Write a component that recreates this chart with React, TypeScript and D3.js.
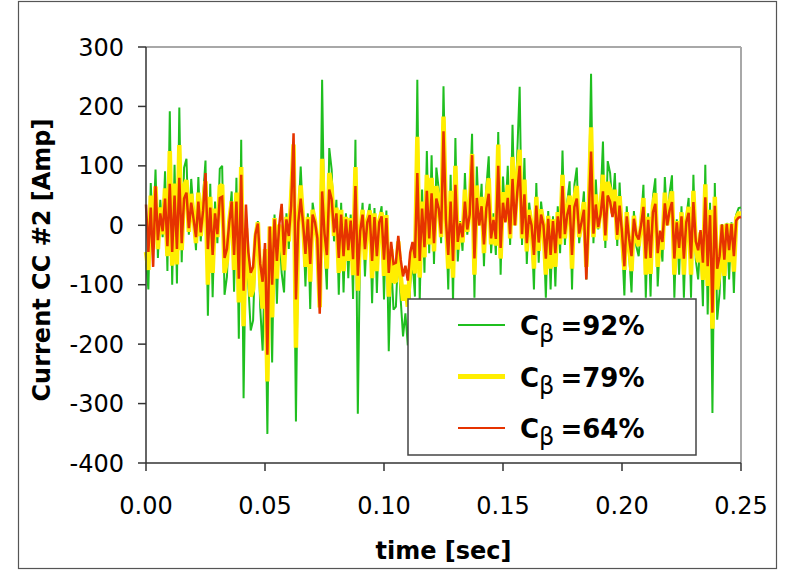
import React, { useEffect } from 'react';
import * as d3 from 'd3';

// sample interval of the recorded current [sec]
const dt = 0.001;

const green92 = [
  -60, -108, 71, -20, 94, -55, 43, -20, 91, -77,
  192, -100, 102, -98, 198, -62, 97, 112, -16, 78,
  20, -42, 81, -27, 50, 109, -152, 70, -121, 40,
  -30, 95, 100, -117, -87, 10, 57, -112, 80, -191,
  144, -291, -8, -100, -177, -160, -30, 7, -139, -211,
  -60, -351, -3, -231, 18, -132, 1, -80, -113, 20,
  -40, 70, 72, -330, 10, 99, 7, -103, 20, -141,
  38, 10, -47, -100, 245, -30, -108, 130, 94, -27,
  43, -117, 38, -113, 20, -89, 18, -124, 144, -317,
  -20, 38, -86, 10, 36, -131, 29, -114, 10, 32,
  -125, 25, -212, -60, -142, -137, -40, -124, -187, -148,
  -202, -100, -60, -120, 245, -130, 60, -80, 125, -47,
  118, -65, 97, 60, -30, 234, 20, -108, 85, -130,
  147, -61, 7, -43, 88, -16, 40, 154, -122, 99,
  0, 70, -69, 63, 116, -47, 20, -50, 157, -83,
  82, 10, 100, -33, 169, 0, 122, 233, -33, 113,
  -65, 38, 0, -108, 71, -63, 40, 0, -122, 24,
  -108, 15, -103, 32, -47, 126, -33, 40, 74, -108,
  68, 97, -30, 10, 57, -91, 30, 255, -30, 77,
  -7, 40, 141, -38, 108, 88, 30, 88, -35, 72,
  -27, -118, 32, -50, -113, 24, -35, -52, 0, 68,
  -122, 20, -120, 48, 79, -103, -20, -61, 81, 0,
  54, 84, -122, 10, -83, 32, -122, 11, 46, -122,
  85, -58, -91, -18, -136, 102, -150, 38, -316, 71,
  -159, -114, 2, -125, 4, -91, 5, -114, 18, 29,
  30,
];

const yellow79 = [
  -45, -75, 50, -15, 65, -40, 30, -15, 62, -52,
  125, -68, 70, -66, 135, -42, 66, 76, -11, 53,
  14, -30, 55, -18, 34, 74, -100, 48, -80, 28,
  -20, 65, 68, -80, -60, 7, 40, -75, 55, -130,
  98, -170, -5, -68, -120, -108, -20, 5, -95, -140,
  -40, -263, -2, -155, 12, -90, 1, -20, -76, 14,
  -27, 48, 136, -206, 7, 67, 5, -70, 14, -95,
  26, 7, -32, -138, 112, -20, -73, 88, 64, -18,
  30, -80, 26, -77, 14, -60, 12, -84, 98, -110,
  -14, 26, -58, 7, 25, -89, 20, -77, 7, 22,
  -85, 17, -120, -40, -96, -93, -27, -84, -127, -100,
  -137, -68, -40, -81, 149, -88, 40, -54, 85, -32,
  80, -44, 66, 40, -20, 183, 14, -73, 58, -88,
  100, -41, 5, -29, 60, -11, 27, 120, -83, 67,
  0, 48, -47, 43, 79, -32, 14, -34, 136, -56,
  56, 7, 68, -22, 115, 0, 83, 127, -22, 77,
  -44, 26, 0, -73, 48, -43, 27, 0, -83, 16,
  -73, 10, -70, 22, -32, 85, -22, 27, 50, -73,
  46, 66, -20, 7, 39, -70, 20, 165, -20, 52,
  -5, 27, 85, -26, 73, 60, 20, 60, -24, 49,
  -18, -75, 22, -34, -77, 16, -24, -35, 0, 46,
  -83, 14, -82, 33, 54, -70, -14, -41, 55, 0,
  37, 57, -83, 7, -56, 22, -83, 7, 31, -83,
  58, -39, -62, -12, -92, 69, -102, 26, -174, 48,
  -108, -78, 1, -85, 3, -62, 3, -78, 12, 20,
  20,
];

const red64 = [
  35, -45, 30, -70, 66, -25, 20, -10, 45, -35,
  70, -45, 50, -40, 80, -30, 45, 55, -5, 38,
  10, -20, 40, -12, 25, 88, -40, 30, -50, 20,
  -15, 46, 48, -55, -40, 5, 40, -50, 40, -90,
  85, -110, 35, -45, -80, -70, -15, 3, -65, -95,
  -30, -218, -2, -100, 10, -60, 1, 36, -50, 10,
  -18, 33, 155, -125, 5, 45, 3, -48, 10, -65,
  18, 5, -22, -149, 57, -14, -50, 60, 44, -12,
  20, -55, 18, -52, 10, -42, 8, -57, 66, -85,
  -10, 18, -40, 5, 17, -60, 14, -52, 5, 15,
  -58, 12, -80, -28, -65, -63, -18, -57, -86, -68,
  -93, -46, -28, -55, 88, -60, 28, -37, 58, -22,
  54, -30, 45, 28, -14, 158, 10, -50, 40, -60,
  68, -28, 3, -20, 40, -7, 18, 118, -56, 46,
  0, 32, -32, 29, 53, -22, 9, -23, 100, -38,
  38, 5, 46, -15, 78, 0, 56, 100, -15, 52,
  -30, 17, 0, -50, 33, -29, 18, 0, -56, 11,
  -50, 7, -47, 15, -22, 66, -15, 18, 34, -50,
  31, 45, -14, 5, 26, -91, 14, 124, -14, 35,
  -3, 18, 57, -17, 50, 40, 14, 40, -16, 33,
  -12, -69, 15, -23, -52, 11, -16, -24, 0, 31,
  -56, 9, -55, 22, 36, -47, -9, -28, 37, 0,
  25, 39, -56, 5, -38, 15, -56, 5, 21, -56,
  39, -27, -42, -8, -63, 47, -69, 17, -147, 33,
  -73, -52, 1, -58, 2, -42, 2, -52, 8, 13,
  14,
];

const xTicks = [0, 0.05, 0.1, 0.15, 0.2, 0.25];
const yTicks = [300, 200, 100, 0, -100, -200, -300, -400];

const seriesList = [
  { name: '92%', values: green92, color: '#1fbf1f', width: 2, legendWidth: 2.2 },
  { name: '79%', values: yellow79, color: '#ffee00', width: 4.5, legendWidth: 5 },
  { name: '64%', values: red64, color: '#e63300', width: 2.5, legendWidth: 2.2 },
];

const font = "'DejaVu Sans', Verdana, sans-serif";

export default function App() {
  useEffect(() => {
    document.body.style.margin = '0';
  }, []);

  const W = 790;
  const H = 571;
  const left = 146, right = 741, top = 47, bottom = 463;

  const x = d3.scaleLinear().domain([0, 0.25]).range([left, right]);
  const y = d3.scaleLinear().domain([-400, 300]).range([bottom, top]);

  const line = d3.line<number>()
    .x((_, i) => x(i * dt))
    .y(d => y(d));

  // legend box
  const lg = { x: 408, y: 299, w: 288, h: 156 };

  return (
    <svg width={W} height={H} style={{ display: 'block', background: '#fff' }}>
      {/* chart area frame */}
      <rect x={18.5} y={1.5} width={758} height={567} fill="none" stroke="#555" strokeWidth={1.2} />

      {/* plot area frame (grey top/right) */}
      <line x1={left} x2={right} y1={top} y2={top} stroke="#a8a8a8" strokeWidth={2} />
      <line x1={right} x2={right} y1={top} y2={bottom} stroke="#a8a8a8" strokeWidth={2} />

      {/* series */}
      {seriesList.map(s => (
        <path key={s.name} d={line(s.values) || ''} fill="none" stroke={s.color}
          strokeWidth={s.width} strokeLinejoin="miter" strokeMiterlimit={2} />
      ))}

      {/* axes */}
      <line x1={left} x2={left} y1={top} y2={bottom} stroke="#333" strokeWidth={1.5} />
      <line x1={left} x2={right} y1={bottom} y2={bottom} stroke="#333" strokeWidth={1.5} />

      {yTicks.map(t => (
        <g key={'y' + t}>
          <line x1={left - 8} x2={left} y1={y(t)} y2={y(t)} stroke="#333" strokeWidth={1.5} />
          <text x={124} y={y(t)} dy="0.36em" textAnchor="end" fontFamily={font} fontSize={24} fill="#000">
            {t}
          </text>
        </g>
      ))}

      {xTicks.map(t => (
        <g key={'x' + t}>
          <line x1={x(t)} x2={x(t)} y1={bottom} y2={bottom + 8} stroke="#333" strokeWidth={1.5} />
          <text x={x(t)} y={514} textAnchor="middle" fontFamily={font} fontSize={24} fill="#000">
            {d3.format('.2f')(t)}
          </text>
        </g>
      ))}

      <text x={443.5} y={559} textAnchor="middle" fontFamily={font} fontSize={24} fontWeight="bold">
        time [sec]
      </text>
      <text transform="translate(50,260) rotate(-90)" textAnchor="middle" fontFamily={font}
        fontSize={24} fontWeight="bold">
        Current CC #2 [Amp]
      </text>

      {/* legend */}
      <rect x={lg.x} y={lg.y} width={lg.w} height={lg.h} fill="#fff" stroke="#444" strokeWidth={1.5} />
      {seriesList.map((s, i) => {
        const cy = 325 + i * 51.5;
        return (
          <g key={'lg' + s.name}>
            <line x1={458} x2={505} y1={cy} y2={cy} stroke={s.color} strokeWidth={s.legendWidth} />
            <text x={520} y={cy + 10} fontFamily={font} fontSize={26} fontWeight="bold" fill="#000">
              C
              <tspan fontWeight="normal" fontSize={24} dy={7}>β</tspan>
              <tspan dy={-7} dx={6}>={s.name}</tspan>
            </text>
          </g>
        );
      })}
    </svg>
  );
}
